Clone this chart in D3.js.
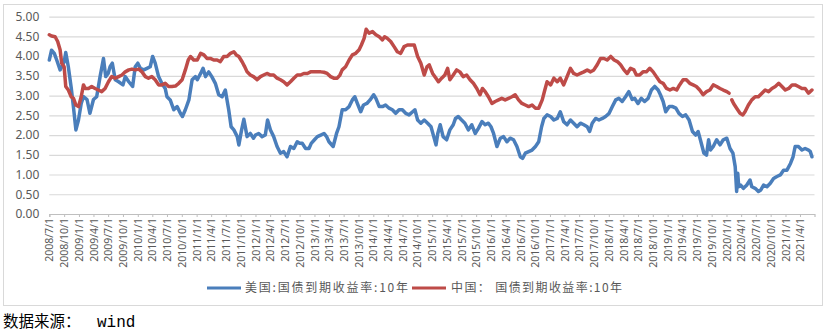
<!DOCTYPE html>
<html>
<head>
<meta charset="utf-8">
<script src="https://cdn.jsdelivr.net/npm/d3@7"></script>
<style>
  html, body { margin: 0; padding: 0; background: #ffffff; }
  svg { display: block; }
</style>
</head>
<body>
<svg id="chart" width="835" height="333"></svg>
<script>
// 10-year government bond yields: United States vs China (%)
const seriesNames = ["美国:国债到期收益率:10年", "中国： 国债到期收益率:10年"];
const seriesColors = ["#4a7ebb", "#be4b48"];

const usDates = [
  "2008-07-01","2008-07-15","2008-08-01","2008-08-16","2008-09-06","2008-10-01","2008-10-11","2008-10-27",
  "2008-11-14","2008-11-28","2008-12-13","2008-12-29","2009-01-15","2009-01-29","2009-02-20","2009-03-10",
  "2009-04-01","2009-04-21","2009-05-12","2009-06-02","2009-06-16","2009-07-01","2009-07-13","2009-07-27",
  "2009-08-14","2009-09-04","2009-10-01","2009-10-15","2009-11-06","2009-11-30","2009-12-16","2010-01-01",
  "2010-01-17","2010-02-07","2010-02-27","2010-03-19","2010-04-03","2010-04-19","2010-05-10","2010-05-30",
  "2010-06-20","2010-07-01","2010-07-21","2010-08-12","2010-09-02","2010-09-22","2010-10-05","2010-10-23",
  "2010-11-14","2010-12-04","2010-12-25","2011-01-05","2011-01-26","2011-02-10","2011-02-25","2011-03-17",
  "2011-04-05","2011-04-27","2011-05-18","2011-06-08","2011-06-28","2011-07-05","2011-07-19","2011-08-03",
  "2011-08-20","2011-09-10","2011-09-20","2011-10-07","2011-10-21","2011-11-10","2011-11-30","2011-12-20",
  "2012-01-01","2012-01-21","2012-02-11","2012-03-02","2012-03-16","2012-04-03","2012-04-23","2012-05-14",
  "2012-06-04","2012-06-24","2012-07-15","2012-08-05","2012-08-26","2012-09-16","2012-10-01","2012-10-17",
  "2012-11-07","2012-11-28","2012-12-12","2013-01-01","2013-01-19","2013-02-09","2013-03-01","2013-03-17",
  "2013-04-01","2013-04-27","2013-05-18","2013-06-02","2013-06-22","2013-07-13","2013-08-04","2013-08-24",
  "2013-09-08","2013-09-24","2013-10-15","2013-11-01","2013-11-22","2013-12-12","2014-01-03","2014-01-17",
  "2014-02-07","2014-02-27","2014-03-18","2014-04-09","2014-04-29","2014-05-20","2014-06-10","2014-06-30",
  "2014-07-21","2014-08-11","2014-09-02","2014-09-16","2014-10-03","2014-10-23","2014-11-13","2014-12-04",
  "2014-12-25","2015-01-11","2015-01-25","2015-02-05","2015-02-20","2015-03-10","2015-04-01","2015-04-21",
  "2015-05-12","2015-05-26","2015-06-12","2015-07-03","2015-07-23","2015-08-14","2015-09-04","2015-09-25",
  "2015-10-15","2015-11-06","2015-11-26","2015-12-16","2016-01-01","2016-01-17","2016-02-07","2016-02-28",
  "2016-03-19","2016-04-09","2016-04-29","2016-05-20","2016-06-10","2016-07-01","2016-07-15","2016-08-01",
  "2016-08-22","2016-09-12","2016-10-03","2016-10-23","2016-11-10","2016-11-24","2016-12-14","2017-01-05",
  "2017-01-25","2017-02-15","2017-03-06","2017-03-27","2017-04-17","2017-05-08","2017-05-28","2017-06-18",
  "2017-07-09","2017-07-30","2017-08-20","2017-09-04","2017-09-20","2017-10-11","2017-11-01","2017-11-22",
  "2017-12-12","2018-01-03","2018-01-23","2018-02-13","2018-03-04","2018-03-25","2018-04-15","2018-05-05",
  "2018-05-26","2018-06-10","2018-07-01","2018-07-21","2018-08-11","2018-09-02","2018-09-22","2018-10-13",
  "2018-11-03","2018-11-17","2018-12-04","2018-12-20","2019-01-11","2019-02-01","2019-02-21","2019-03-12",
  "2019-04-03","2019-04-23","2019-05-14","2019-06-04","2019-06-24","2019-07-09","2019-07-23","2019-08-14",
  "2019-08-30","2019-09-12","2019-09-24","2019-10-11","2019-11-01","2019-11-22","2019-12-12","2020-01-03",
  "2020-01-23","2020-02-10","2020-02-24","2020-03-04","2020-03-11","2020-03-17","2020-03-29","2020-04-15",
  "2020-05-05","2020-05-26","2020-06-06","2020-06-27","2020-07-17","2020-08-01","2020-08-18","2020-09-08",
  "2020-09-29","2020-10-19","2020-11-09","2020-11-30","2020-12-20","2021-01-10","2021-02-01","2021-02-17",
  "2021-03-02","2021-03-22","2021-04-13","2021-05-03","2021-05-24","2021-06-04","2021-06-14"
];
const usYield = [
  3.90,4.15,4.07,3.90,3.65,3.85,4.09,3.73,
  3.20,2.70,2.13,2.38,2.80,2.97,2.90,2.55,
  2.90,2.97,3.48,3.94,3.48,3.56,3.73,3.82,
  3.40,3.35,3.27,3.48,3.35,3.23,3.73,3.82,
  3.69,3.65,3.69,3.73,3.99,3.82,3.48,3.31,
  3.18,2.97,2.89,2.64,2.72,2.55,2.47,2.64,
  2.89,3.40,3.48,3.40,3.56,3.69,3.48,3.60,
  3.48,3.31,3.02,2.97,3.14,2.97,2.64,2.21,
  2.13,1.96,1.75,2.13,2.40,1.96,2.04,1.92,
  2.00,2.04,1.96,2.00,2.38,2.13,1.96,1.71,
  1.54,1.58,1.45,1.71,1.66,1.83,1.79,1.79,
  1.66,1.66,1.79,1.88,1.96,2.00,2.04,1.96,
  1.83,1.71,2.04,2.21,2.64,2.64,2.72,2.89,
  2.97,2.80,2.59,2.76,2.80,2.89,3.02,2.93,
  2.72,2.72,2.76,2.68,2.64,2.55,2.64,2.64,
  2.55,2.51,2.59,2.64,2.38,2.30,2.38,2.30,
  2.21,1.96,1.75,2.04,2.26,1.96,1.88,2.13,
  2.26,2.42,2.47,2.38,2.30,2.13,2.26,2.04,
  2.17,2.34,2.26,2.30,2.21,2.04,1.71,1.92,
  1.96,1.83,1.92,1.88,1.71,1.45,1.41,1.54,
  1.58,1.62,1.71,1.83,2.21,2.42,2.51,2.47,
  2.38,2.42,2.59,2.34,2.26,2.38,2.30,2.21,
  2.30,2.26,2.21,2.09,2.30,2.42,2.38,2.42,
  2.47,2.55,2.72,2.89,2.93,2.85,2.97,3.10,
  2.90,2.93,2.80,2.93,2.85,2.93,3.14,3.23,
  3.14,3.02,2.85,2.59,2.72,2.72,2.68,2.55,
  2.47,2.51,2.38,2.09,2.00,2.09,1.88,1.54,
  1.49,1.88,1.62,1.71,1.88,1.75,1.88,1.92,
  1.66,1.54,1.20,0.57,1.03,0.69,0.73,0.65,
  0.73,0.86,0.69,0.65,0.57,0.61,0.73,0.69,
  0.78,0.90,0.95,0.99,1.11,1.11,1.28,1.45,
  1.71,1.71,1.62,1.66,1.62,1.58,1.45
];

// null marks the holiday break where no Chinese quote was published
const cnDates = [
  "2008-07-01","2008-07-15","2008-08-06","2008-08-22","2008-09-06","2008-09-16","2008-10-01","2008-10-11",
  "2008-10-27","2008-11-14","2008-11-28","2008-12-13","2008-12-29","2009-01-15","2009-01-29","2009-02-09",
  "2009-03-01","2009-03-21","2009-04-11","2009-05-01","2009-05-22","2009-06-12","2009-07-03","2009-07-23",
  "2009-08-14","2009-09-04","2009-09-25","2009-10-15","2009-11-06","2009-11-26","2009-12-16","2010-01-07",
  "2010-01-27","2010-02-17","2010-03-08","2010-03-29","2010-04-19","2010-05-10","2010-05-30","2010-06-20",
  "2010-07-11","2010-08-01","2010-08-22","2010-09-12","2010-10-03","2010-10-23","2010-11-10","2010-11-24",
  "2010-12-14","2011-01-05","2011-01-26","2011-02-15","2011-03-06","2011-03-27","2011-04-17","2011-05-08",
  "2011-05-28","2011-06-18","2011-07-09","2011-07-30","2011-08-20","2011-09-04","2011-09-20","2011-10-11",
  "2011-10-25","2011-11-10","2011-11-30","2011-12-20","2012-01-11","2012-02-01","2012-02-21","2012-03-12",
  "2012-04-03","2012-04-23","2012-05-14","2012-06-04","2012-06-24","2012-07-15","2012-08-05","2012-08-26",
  "2012-09-16","2012-10-07","2012-10-27","2012-11-18","2012-12-08","2012-12-29","2013-01-19","2013-02-09",
  "2013-03-01","2013-03-21","2013-04-11","2013-05-01","2013-05-22","2013-06-08","2013-06-22","2013-07-13",
  "2013-08-04","2013-08-24","2013-09-14","2013-10-05","2013-10-19","2013-11-05","2013-11-18","2013-12-06",
  "2013-12-27","2014-01-17","2014-02-07","2014-02-27","2014-03-12","2014-03-28","2014-04-19","2014-05-10",
  "2014-05-30","2014-06-20","2014-07-11","2014-08-01","2014-08-22","2014-09-12","2014-10-03","2014-10-23",
  "2014-11-13","2014-11-30","2014-12-14","2015-01-04","2015-01-25","2015-02-09","2015-03-01","2015-03-21",
  "2015-04-07","2015-04-21","2015-05-12","2015-06-02","2015-06-22","2015-07-13","2015-08-03","2015-08-24",
  "2015-09-14","2015-10-05","2015-10-25","2015-11-09","2015-11-26","2015-12-16","2016-01-07","2016-01-27",
  "2016-02-17","2016-03-08","2016-03-29","2016-04-19","2016-05-10","2016-05-30","2016-06-20","2016-07-11",
  "2016-08-01","2016-08-22","2016-09-12","2016-10-03","2016-10-23","2016-11-14","2016-11-30","2016-12-14",
  "2017-01-05","2017-01-25","2017-02-15","2017-03-06","2017-03-27","2017-04-17","2017-05-08","2017-05-28",
  "2017-06-18","2017-07-09","2017-07-30","2017-08-20","2017-09-10","2017-09-30","2017-10-21","2017-11-11",
  "2017-12-02","2017-12-22","2018-01-13","2018-02-03","2018-02-23","2018-03-15","2018-04-05","2018-04-25",
  "2018-05-16","2018-06-06","2018-06-21","2018-07-11","2018-08-01","2018-08-22","2018-09-12","2018-10-03",
  "2018-10-23","2018-11-14","2018-12-04","2018-12-25","2019-01-15","2019-02-05","2019-02-26","2019-03-16",
  "2019-04-07","2019-04-27","2019-05-18","2019-06-08","2019-06-28","2019-07-19","2019-08-09","2019-08-30",
  "2019-09-20","2019-10-11","2019-11-01","2019-11-22","2019-12-12","2020-01-03","2020-01-17","2020-01-24",
  "2020-02-03","2020-02-14","2020-03-04","2020-03-25","2020-04-11","2020-04-25","2020-05-16","2020-06-06",
  "2020-06-27","2020-07-17","2020-08-08","2020-08-28","2020-09-18","2020-10-09","2020-10-30","2020-11-20",
  "2020-12-10","2020-12-31","2021-01-21","2021-02-11","2021-03-02","2021-03-22","2021-04-13","2021-05-03",
  "2021-05-24","2021-06-14"
];
const cnYield = [
  4.54,4.51,4.49,4.37,4.16,3.82,3.73,3.23,
  3.14,2.97,2.93,2.76,2.72,2.97,3.27,3.18,
  3.18,3.23,3.18,3.14,3.10,3.18,3.35,3.48,
  3.44,3.48,3.52,3.60,3.65,3.67,3.65,3.67,
  3.60,3.48,3.44,3.48,3.40,3.27,3.27,3.31,
  3.23,3.23,3.24,3.31,3.40,3.65,3.90,3.99,
  3.90,3.90,4.07,4.03,3.94,3.94,3.90,3.90,
  3.86,3.99,3.99,4.07,4.11,4.03,3.99,3.85,
  3.74,3.60,3.52,3.48,3.40,3.48,3.52,3.56,
  3.52,3.52,3.44,3.40,3.35,3.27,3.35,3.44,
  3.52,3.52,3.56,3.56,3.60,3.60,3.60,3.60,
  3.59,3.56,3.48,3.44,3.44,3.52,3.65,3.73,
  3.90,4.03,4.07,4.16,4.28,4.45,4.68,4.58,
  4.62,4.54,4.49,4.41,4.49,4.45,4.37,4.24,
  4.11,4.07,4.24,4.28,4.28,4.28,3.99,3.82,
  3.52,3.73,3.78,3.56,3.44,3.35,3.44,3.52,
  3.69,3.40,3.52,3.65,3.60,3.48,3.52,3.40,
  3.31,3.18,3.02,3.18,3.10,2.97,2.80,2.85,
  2.89,2.93,2.89,2.93,2.97,3.02,2.89,2.80,
  2.76,2.72,2.76,2.68,2.68,2.89,3.14,3.35,
  3.27,3.44,3.35,3.44,3.27,3.48,3.69,3.56,
  3.52,3.56,3.60,3.65,3.60,3.65,3.78,3.94,
  3.94,3.90,3.99,3.90,3.86,3.78,3.65,3.56,
  3.69,3.65,3.52,3.52,3.60,3.60,3.69,3.60,
  3.48,3.35,3.31,3.18,3.14,3.18,3.14,3.27,
  3.40,3.40,3.31,3.27,3.23,3.14,3.02,3.10,
  3.14,3.27,3.23,3.18,3.14,3.10,3.06,null,
  2.89,2.80,2.68,2.55,2.51,2.59,2.76,2.89,
  2.97,2.97,3.06,3.14,3.10,3.18,3.23,3.31,
  3.23,3.14,3.18,3.27,3.27,3.23,3.18,3.18,
  3.06,3.14
];

const yTicks = [0, 0.5, 1, 1.5, 2, 2.5, 3, 3.5, 4, 4.5, 5];
const xTickLabels = [
  "2008/7/1","2008/10/1","2009/1/1","2009/4/1","2009/7/1","2009/10/1","2010/1/1","2010/4/1",
  "2010/7/1","2010/10/1","2011/1/1","2011/4/1","2011/7/1","2011/10/1","2012/1/1","2012/4/1",
  "2012/7/1","2012/10/1","2013/1/1","2013/4/1","2013/7/1","2013/10/1","2014/1/1","2014/4/1",
  "2014/7/1","2014/10/1","2015/1/1","2015/4/1","2015/7/1","2015/10/1","2016/1/1","2016/4/1",
  "2016/7/1","2016/10/1","2017/1/1","2017/4/1","2017/7/1","2017/10/1","2018/1/1","2018/4/1",
  "2018/7/1","2018/10/1","2019/1/1","2019/4/1","2019/7/1","2019/10/1","2020/1/1","2020/4/1",
  "2020/7/1","2020/10/1","2021/1/1","2021/4/1"
];
const sourceNote = ["数据来源：", "wind"];

// ---- drawing ----
const svg = d3.select("#chart");
const parseDate = d3.timeParse("%Y-%m-%d");
const parseTick = d3.timeParse("%Y/%m/%d");
const fmtTick = d3.timeFormat("%Y/%-m/%-d");

const plot = { left: 49.3, right: 814.5, top: 16.6, bottom: 214 };
const axisFont = "'Noto Sans', 'Liberation Sans', sans-serif";
const cjkFont = "'Noto Sans CJK SC', 'Noto Sans', sans-serif";

const x = d3.scaleTime()
  .domain([parseDate("2008-07-01"), parseDate("2021-06-30")])
  .range([plot.left, plot.right]);
const y = d3.scaleLinear().domain([0, 5]).range([plot.bottom, plot.top]);

// outer chart frame
svg.append("rect")
  .attr("x", 3.5).attr("y", 4.5).attr("width", 819).attr("height", 301)
  .attr("fill", "#ffffff").attr("stroke", "#d9d9d9").attr("stroke-width", 1);

// horizontal gridlines + y labels
const yAxis = svg.append("g")
  .attr("transform", `translate(${plot.left},0)`)
  .call(d3.axisLeft(y).tickValues(yTicks).tickFormat(d3.format(".2f"))
    .tickSize(-(plot.right - plot.left)).tickPadding(10));
yAxis.select(".domain").remove();
yAxis.selectAll(".tick line")
  .attr("stroke", "#d9d9d9").attr("stroke-width", 1.2);
yAxis.selectAll(".tick text")
  .attr("fill", "#595959").attr("font-size", 12).attr("font-family", axisFont);

// x axis with rotated quarterly date labels
const xTickDates = xTickLabels.map(parseTick);
const xAxis = svg.append("g")
  .attr("transform", `translate(0,${plot.bottom})`)
  .call(d3.axisBottom(x).tickValues(xTickDates).tickFormat(fmtTick).tickSizeOuter(0).tickSize(3));
xAxis.select(".domain").attr("stroke", "#bfbfbf").attr("stroke-width", 1.2);
xAxis.selectAll(".tick line").attr("stroke", "#bfbfbf");
xAxis.selectAll(".tick text")
  .attr("fill", "#595959").attr("font-size", 10.5).attr("font-family", axisFont)
  .attr("transform", "rotate(-90)")
  .attr("x", -4).attr("y", 0).attr("dy", "0.35em")
  .style("text-anchor", "end");

// series lines
const line = d3.line()
  .defined(d => d.v != null)
  .x(d => x(d.date))
  .y(d => y(d.v));

const series = [
  usDates.map((s, i) => ({ date: parseDate(s), v: usYield[i] })),
  cnDates.map((s, i) => ({ date: parseDate(s), v: cnYield[i] }))
];

series.forEach((pts, i) => {
  svg.append("path")
    .datum(pts)
    .attr("fill", "none")
    .attr("stroke", seriesColors[i])
    .attr("stroke-width", 3.5)
    .attr("stroke-linejoin", "round")
    .attr("stroke-linecap", "round")
    .attr("d", line);
});

// legend
const legendItems = [
  { x: 207, textX: 245, width: 163 },
  { x: 412, textX: 451, width: 171 }
];
legendItems.forEach((it, i) => {
  svg.append("line")
    .attr("x1", it.x).attr("x2", it.x + 34)
    .attr("y1", 288).attr("y2", 288)
    .attr("stroke", seriesColors[i]).attr("stroke-width", 3);
  svg.append("text")
    .attr("x", it.textX).attr("y", 288).attr("dy", "0.36em")
    .attr("font-size", 12).attr("font-family", cjkFont).attr("fill", "#595959")
    .attr("textLength", it.width).attr("lengthAdjust", "spacing")
    .text(seriesNames[i]);
});

// source note
const note = svg.append("text").attr("x", 3).attr("y", 327).attr("fill", "#000000");
note.append("tspan").attr("font-size", 15.5).attr("font-family", cjkFont).text(sourceNote[0]);
note.append("tspan").attr("x", 97).attr("font-size", 16)
  .attr("font-family", "'Liberation Mono', 'DejaVu Sans Mono', monospace").text(sourceNote[1]);
</script>
</body>
</html>
